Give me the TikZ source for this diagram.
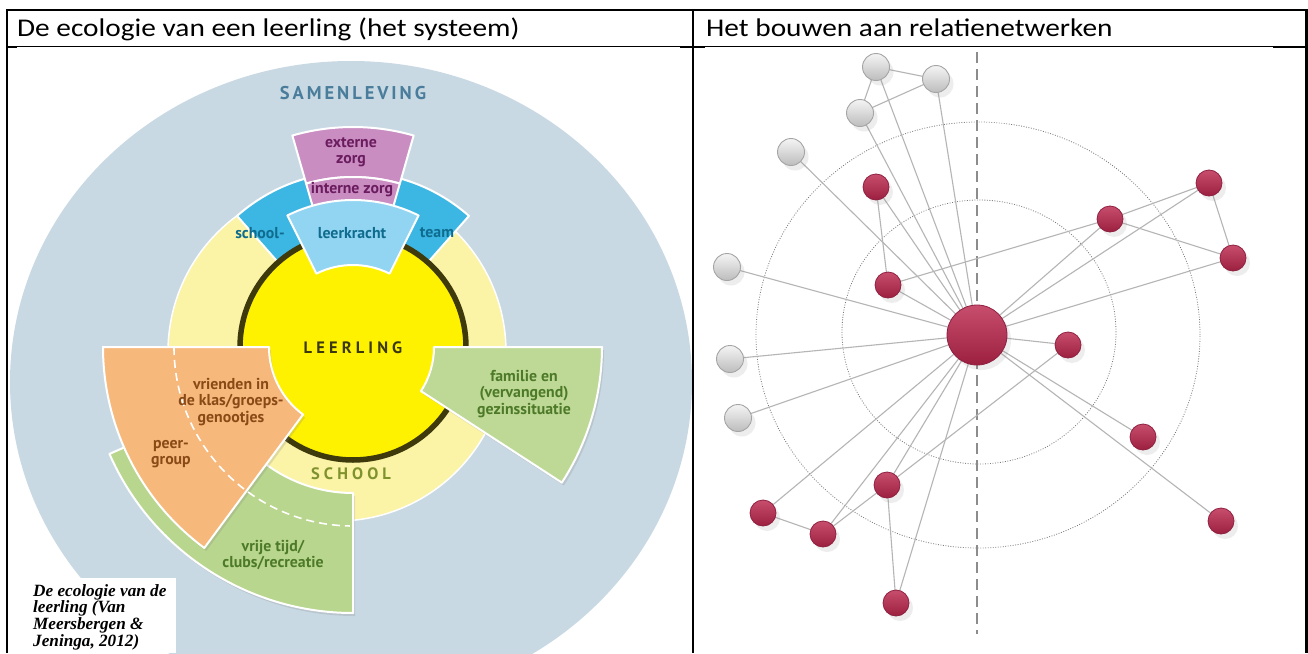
\documentclass[tikz,border=0pt]{standalone}
\usepackage{fontspec}
\setmainfont{Carlito}
\newfontfamily\headfont{Carlito}[FakeStretch=1.15]
\newfontfamily\labfont{PT Sans}
\newfontfamily\spfontA{PT Sans}[LetterSpace=16]
\newfontfamily\spfontB{PT Sans}[LetterSpace=25]
\newfontfamily\capfont{Liberation Serif}
\usetikzlibrary{calc,shadows}
\pgfdeclarelayer{bg}
\pgfsetlayers{bg,main}
\definecolor{discblue}{HTML}{C9D9E3}
\definecolor{paleyel}{HTML}{FBF3A5}
\definecolor{brightyel}{HTML}{FFF200}
\definecolor{darkring}{HTML}{3E3A0B}
\definecolor{ringblue}{HTML}{3CB6E3}
\definecolor{lightblue}{HTML}{92D5F2}
\definecolor{mauve}{HTML}{C98DC2}
\definecolor{peach}{HTML}{F7B87C}
\definecolor{leafA}{HTML}{B8D68E}
\definecolor{leafB}{HTML}{BED996}
\definecolor{txtpurple}{HTML}{6B1C5E}
\definecolor{txtteal}{HTML}{0F6C8E}
\definecolor{txtbrown}{HTML}{8A4A16}
\definecolor{txtgreen}{HTML}{4D7A28}
\definecolor{txtsamen}{HTML}{4A7D9B}
\definecolor{txtschool}{HTML}{7F922E}
\definecolor{txtleer}{HTML}{3B390C}
\definecolor{edgegray}{HTML}{B5B5B5}
\definecolor{grayA}{HTML}{F4F4F4}
\definecolor{grayB}{HTML}{BDBDBD}
\definecolor{grayline}{HTML}{A5A5A5}
\definecolor{redA}{HTML}{C84E6E}
\definecolor{redB}{HTML}{9C1F3F}
\definecolor{redline}{HTML}{8E2040}
\definecolor{dotgray}{HTML}{7A7A7A}
\definecolor{dashgray}{HTML}{8C8C8C}
\newcommand{\annsec}[5]{\path[#1] ($(C)+(#2:#4)$) arc[start angle=#2,end angle=#3,radius=#4] -- ($(C)+(#3:#5)$) arc[start angle=#3,end angle=#2,radius=#5] -- cycle;}
\tikzset{
  piece/.style={fill=#1, draw=white, line width=2pt, line join=round},
  shpiece/.style={piece=#1, drop shadow={shadow xshift=2pt, shadow yshift=-3pt, opacity=0.22}},
  lab/.style={font=\labfont\bfseries\fontsize{15.8}{16.3}\selectfont, align=center, inner sep=0pt},
  netline/.style={draw=edgegray, line width=1.1pt},
  nodeshadow/.style={drop shadow={shadow xshift=4pt, shadow yshift=-5pt, opacity=0.14}},
  graynode/.style={circle, inner sep=0pt, minimum size=27pt, draw=grayline, line width=0.9pt, top color=grayA, bottom color=grayB, nodeshadow},
  rednode/.style={circle, inner sep=0pt, minimum size=26pt, draw=redline, line width=0.8pt, top color=redA, bottom color=redB, nodeshadow},
  hubnode/.style={rednode, minimum size=60pt},
  header/.style={font=\headfont\fontsize{25.5}{30}\selectfont, anchor=base west, inner sep=0pt},
}
\begin{document}
\begin{tikzpicture}[x=1pt,y=1pt]
\useasboundingbox (0,0) rectangle (1308,-653);
\begin{pgfonlayer}{bg}
\fill[white] (0,0) rectangle (1308,-653);
\end{pgfonlayer}

% ---------------- left panel: ecology diagram ----------------
\begin{scope}
\clip (7,-46) rectangle (693,-653);
\coordinate (C) at (353,-347);
\fill[discblue] (351,-382) ellipse[x radius=341, y radius=321];
\fill[paleyel] (337,-352) circle[radius=169];
\draw[white, line width=1.5pt] (337,-352) circle[radius=169];
\annsec{piece=ringblue}{48.5}{131.5}{112}{175}
\annsec{piece=mauve}{74}{106}{170}{220}
\annsec{piece=mauve}{74}{106}{146}{170}
\fill[brightyel] (C) circle[radius=113];
\draw[darkring, line width=5.5pt] (C) circle[radius=113];
\annsec{piece=lightblue}{63.5}{116.5}{82}{147}
\annsec{shpiece=leafA}{203.7}{270}{146}{266}
\annsec{shpiece=peach}{180}{233.5}{84}{250}
\draw[white, line width=1.6pt, dash pattern=on 8pt off 5pt] ($(C)+(180:179)$) arc[start angle=180, end angle=269, radius=179];
\annsec{shpiece=leafB}{-33}{0}{81}{249}

\node[font=\spfontA\bfseries\fontsize{18.5}{21}\selectfont, text=txtsamen, inner sep=0pt] (samen) at (353,-93) {SAMENLEVING};
\node[lab, text=txtpurple] (extz) at (351,-152) {externe\\zorg};
\node[lab, text=txtpurple] (intz) at (352,-190) {interne zorg};
\node[lab, text=txtteal] (schl) at (260,-233) {school-};
\node[lab, text=txtteal] (leerk) at (352,-233) {leerkracht};
\node[lab, text=txtteal] (team) at (437,-233) {team};
\node[font=\spfontB\bfseries\fontsize{16.5}{19}\selectfont, text=txtleer, inner sep=0pt] (leer) at (353,-348) {LEERLING};
\node[font=\spfontB\bfseries\fontsize{16.5}{19}\selectfont, text=txtschool, inner sep=0pt] (school) at (351,-474) {SCHOOL};
\node[lab, text=txtbrown] (vrienden) at (231,-402) {vrienden in\\de klas/groeps-\\genootjes};
\node[lab, text=txtbrown] (peer) at (171,-454) {peer-\\group};
\node[lab, text=txtgreen] (fam) at (524,-394) {familie en\\(vervangend)\\gezinssituatie};
\node[lab, text=txtgreen] (vrij) at (273,-555) {vrije tijd/\\clubs/recreatie};
\fill[white] (28,-578) rectangle (176,-653);
\node[font=\capfont\bfseries\itshape\fontsize{17.2}{16.8}\selectfont, align=left, anchor=north west, inner sep=0pt] (caption) at (33,-584) {De ecologie van de\\leerling (Van\\Meersbergen \&\\Jeninga, 2012)};
\end{scope}

% ---------------- right panel: network ----------------
\node[hubnode] (H) at (977,-335) {};
\node[graynode] (ga) at (876,-67) {};
\node[graynode] (gb) at (936,-79) {};
\node[graynode] (gc) at (860,-113) {};
\node[graynode] (gd) at (791,-152) {};
\node[graynode] (ge) at (727,-267) {};
\node[graynode] (gf) at (730,-359) {};
\node[graynode] (gg) at (738,-418) {};
\node[rednode] (ra) at (876,-187) {};
\node[rednode] (rb) at (888,-285) {};
\node[rednode] (rc) at (1110,-219) {};
\node[rednode] (rd) at (1209,-183) {};
\node[rednode] (re) at (1233,-258) {};
\node[rednode] (rf) at (1068,-345) {};
\node[rednode] (rg) at (1143,-437) {};
\node[rednode] (rh) at (1221,-521) {};
\node[rednode] (ri) at (887,-485) {};
\node[rednode] (rj) at (763,-513) {};
\node[rednode] (rk) at (823,-534) {};
\node[rednode] (rl) at (896,-603) {};
\coordinate (dtop) at (977,-52);
\coordinate (dbot) at (977,-634);
\begin{pgfonlayer}{bg}
\draw[dotgray, line width=0.8pt, dash pattern=on 0.9pt off 1.6pt] (979,-332) ellipse[x radius=137, y radius=132];
\draw[dotgray, line width=0.8pt, dash pattern=on 0.9pt off 1.6pt] (978,-335) ellipse[x radius=222, y radius=213];
\draw[dashgray, line width=1.2pt, dash pattern=on 11pt off 6pt] (dtop) -- (dbot);
\foreach \a/\b in {ga/gb, ga/gc, gb/gc, ga/H, gb/H, gc/H, gd/H, ra/H, ra/rb, rb/H, rb/rc,
  ge/H, gf/H, gg/H, rc/H, rc/rd, rc/re, rd/re, rd/H, re/H, rf/H, rf/ri, rg/H, rh/H,
  ri/H, rj/H, rk/H, rl/H, rj/rk, rk/ri, ri/rl}
  \draw[netline] (\a.center) -- (\b.center);
\end{pgfonlayer}

% ---------------- table ----------------
\node[header] (h1) at (17,-36) {De ecologie van een leerling (het systeem)};
\node[header] (h2) at (706,-36) {Het bouwen aan relatienetwerken};
\draw[line width=2.4pt] (5.8,-10) -- (1308,-10);
\draw[line width=1pt] (7,-46.5) -- (1307,-46.5);
\draw[line width=2.2pt] (7,-47) -- (17,-47);
\draw[line width=2.2pt] (680,-47) -- (705,-47);
\draw[line width=2.2pt] (1273,-47) -- (1307,-47);
\draw[line width=2.6pt] (7,-10) -- (7,-653);
\draw[line width=2.2pt] (693,-10) -- (693,-653);
\draw[line width=2.6pt] (1306.5,-10) -- (1306.5,-653);
\end{tikzpicture}
\end{document}
